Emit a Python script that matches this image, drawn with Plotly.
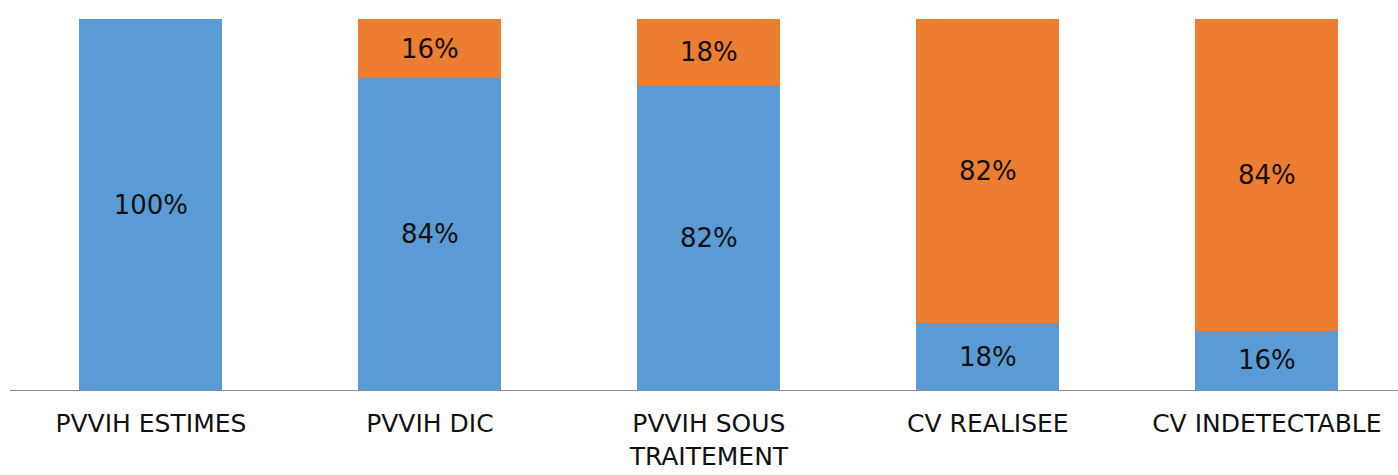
import plotly.graph_objects as go

categories = ["PVVIH ESTIMES", "PVVIH DIC", "PVVIH SOUS<br>TRAITEMENT", "CV REALISEE", "CV INDETECTABLE"]
blue_values = [100, 84, 82, 18, 16]
orange_values = [0, 16, 18, 82, 84]

colors = {"blue": "#5B9BD5", "orange": "#ED7D31"}


def labels(vals):
    return [f"{v}%" if v else "" for v in vals]


fig = go.Figure()
for vals, col in [(blue_values, colors["blue"]), (orange_values, colors["orange"])]:
    fig.add_trace(go.Bar(
        x=categories, y=vals, marker_color=col, marker_line_width=0,
        text=labels(vals), textposition="inside", insidetextanchor="middle",
        textangle=0, textfont=dict(size=26, color="#111111"), constraintext="none",
    ))

fig.update_layout(
    barmode="stack",
    bargap=0.4875,
    width=1398, height=475,
    margin=dict(l=10, r=0, t=19, b=85),
    paper_bgcolor="white", plot_bgcolor="white",
    showlegend=False,
    font=dict(family="DejaVu Sans, sans-serif", color="#111111"),
)
fig.update_xaxes(
    automargin=False, range=[-0.505, 4.47],
    showline=True, linecolor="#8c8c8c", linewidth=1,
    ticks="outside", ticklen=11, tickcolor="rgba(0,0,0,0)",
    tickfont=dict(size=25, color="#111111"), showgrid=False,
)
fig.update_yaxes(range=[0, 100], visible=False, automargin=False)

# page body has a default 8px margin; drop it so the figure fills the window
fig.write_html("out.html", config={"displayModeBar": False},
               post_script="document.body.style.margin='0';")
